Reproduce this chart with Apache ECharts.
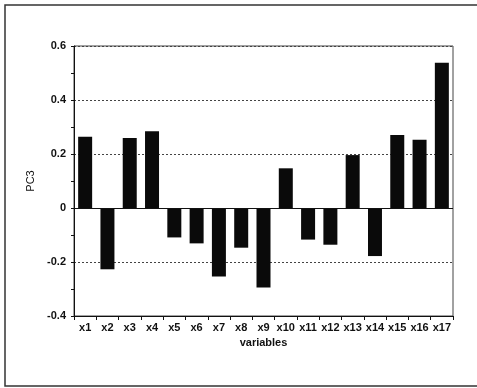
<!DOCTYPE html>
<html>
<head>
<meta charset="utf-8">
<script src="https://cdn.jsdelivr.net/npm/echarts@6/dist/echarts.min.js"></script>
<style>html,body{margin:0;padding:0;background:#fff;}#c{width:477px;height:388px;}</style>
</head>
<body>
<div id="c"></div>
<script>
const categories = ['x1','x2','x3','x4','x5','x6','x7','x8','x9','x10','x11','x12','x13','x14','x15','x16','x17'];
const pc3Values = [0.264,-0.227,0.259,0.284,-0.109,-0.131,-0.254,-0.147,-0.294,0.147,-0.117,-0.136,0.196,-0.178,0.270,0.253,0.538];
const yMin = -0.4, yMax = 0.6, yStep = 0.2;

const chart = echarts.init(document.getElementById('c'), null, {renderer:'canvas'});
const font = 'Liberation Sans, Arial, sans-serif';
chart.setOption({
  animation: false,
  backgroundColor: '#fff',
  graphic: [{
    type: 'rect', shape: {x: 5, y: 5, width: 490, height: 381},
    style: {fill: 'none', stroke: '#333', lineWidth: 1.5}, silent: true, z: -1
  }],
  grid: {left: 74, right: 24, top: 46, bottom: 72, show: true, borderColor: '#444', borderWidth: 1, backgroundColor: 'transparent'},
  xAxis: {
    type: 'category', data: categories,
    name: 'variables', nameLocation: 'middle', nameGap: 19,
    nameTextStyle: {fontFamily: font, fontWeight: 'bold', fontSize: 11, color: '#111'},
    axisLine: {onZero: false, lineStyle: {color: '#111', width: 1}},
    axisTick: {show: true, length: 4, lineStyle: {color: '#111'}},
    axisLabel: {fontFamily: font, fontWeight: 'bold', fontSize: 11, color: '#111', margin: 6, interval: 0}
  },
  yAxis: {
    type: 'value', min: yMin, max: yMax, interval: yStep,
    name: 'PC3', nameLocation: 'middle', nameGap: 36, nameRotate: 90,
    nameTextStyle: {fontFamily: font, fontSize: 11, color: '#111'},
    axisLine: {show: true, lineStyle: {color: '#111', width: 1}},
    axisTick: {show: true, length: 3, lineStyle: {color: '#111'}},
    minorTick: {show: true, splitNumber: 2, length: 3, lineStyle: {color: '#111'}},
    axisLabel: {fontFamily: font, fontWeight: 'bold', fontSize: 11, color: '#111', margin: 8,
      formatter: v => (Math.abs(v) < 1e-9 ? '0' : (Math.round(v*10)/10).toString())},
    splitLine: {show: true, lineStyle: {color: '#444', type: [2, 2], width: 1}}
  },
  series: [{
    type: 'bar', data: pc3Values, barWidth: 14,
    itemStyle: {color: '#0a0a0a'},
    markLine: {
      silent: true, symbol: 'none', label: {show: false},
      lineStyle: {color: '#111', type: 'solid', width: 1},
      data: [{yAxis: 0}]
    }
  }]
});
</script>
</body>
</html>
